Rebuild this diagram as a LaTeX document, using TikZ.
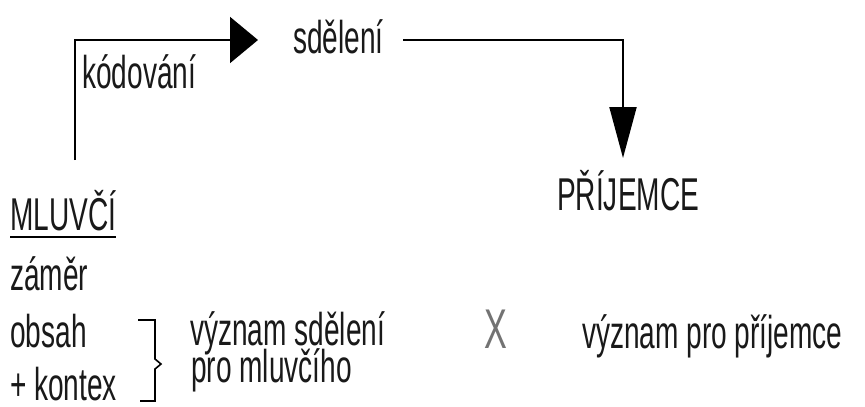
\documentclass[tikz,border=0pt]{standalone}
\usepackage{fontspec}
\setmainfont[FakeStretch=0.61]{Liberation Sans}
\usetikzlibrary{arrows.meta}
\begin{document}
\begin{tikzpicture}[x=1pt,y=-1pt,
  txt/.style={anchor=base west,inner sep=0pt,font=\fontsize{46}{50}\selectfont,text=black!90},
  conn/.style={line width=2pt,draw=black}]
\useasboundingbox[fill=white] (0,0) rectangle (865,407);
% texts
\node[txt] (kodovani) at (82,88) {kódování};
\node[txt] (sdeleni) at (293,53) {sdělení};
\node[txt] (prijemce) at (557,210) {PŘÍJEMCE};
\node[txt] (mluvci) at (10,230) {MLUVČÍ};
\node[txt] (zamer) at (10,290) {záměr};
\node[txt] (obsah) at (10,347) {obsah};
\node[txt] (kontex) at (10,400) {+ kontex};
\node[txt] (vyznam1) at (190,345) {význam sdělení};
\node[txt] (promluv) at (191,382) {pro mluvčího};
\node[txt,font=\fontsize{56}{60}\selectfont,text=black!55] (xmark) at (484,348) {X};
\node[txt] (vyznam2) at (582,348) {význam pro příjemce};
% underline
\draw[line width=2pt] ([yshift=-7pt]mluvci.base west) -- ([yshift=-7pt]mluvci.base east);
% connectors
\coordinate (kstart) at (75,160);
\coordinate (tip1) at (258,40);
\coordinate (s2) at (403,40);
\coordinate (tip2) at (623,158);
\draw[conn,-{Triangle[length=28pt,width=46pt]}] (kstart) |- (tip1);
\draw[conn,-{Triangle[length=51pt,width=27pt]}] (s2) -| (tip2);
% bracket
\draw[line width=1.6pt,line join=miter] (138,320) -- (155,320) -- (155,359) -- (161,364) -- (155,369) -- (155,401) -- (140,401);
\end{tikzpicture}
\end{document}
